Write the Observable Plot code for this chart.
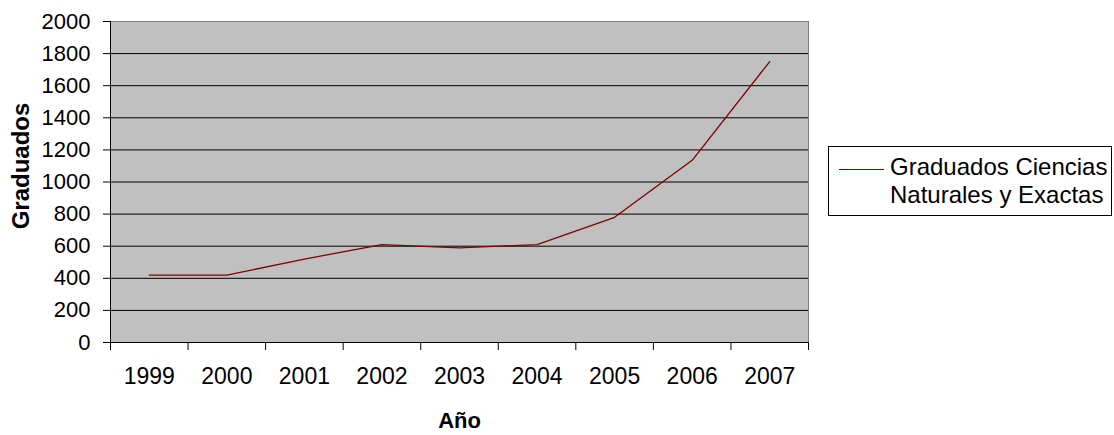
<!DOCTYPE html>
<html>
<head>
<meta charset="utf-8">
<script src="https://cdn.jsdelivr.net/npm/d3@7"></script>
<script src="https://cdn.jsdelivr.net/npm/@observablehq/plot@0.6"></script>
<style>
  html, body { margin: 0; padding: 0; background: white; }
  #wrap { position: relative; width: 1114px; height: 435px; font-family: "Liberation Sans", Arial, sans-serif; }
  #legend { position: absolute; left: 828px; top: 146px; width: 284px; height: 70px; border: 1px solid #000; box-sizing: border-box; background: white; }
  #legend .sw { position: absolute; left: 10px; top: 22px; width: 45px; height: 0; border-top: 1.3px solid #800000; }
  #legend .lbl { position: absolute; left: 61px; top: 6px; font-size: 24px; line-height: 28px; color: #000; white-space: nowrap; }
</style>
</head>
<body>
<div id="wrap"></div>
<script>
const years = [1999, 2000, 2001, 2002, 2003, 2004, 2005, 2006, 2007];
const graduados = [420, 420, 520, 610, 590, 610, 780, 1135, 1750];
const yTicks = [0, 200, 400, 600, 800, 1000, 1200, 1400, 1600, 1800, 2000];
const seriesLines = ["Graduados Ciencias", "Naturales y Exactas"];
const xLabel = "Año";
const yLabel = "Graduados";

const data = years.map((y, i) => ({year: y, value: graduados[i]}));
const boundaries = years.map(y => y - 0.5).concat([years[years.length - 1] + 0.5]);

const chart = Plot.plot({
  width: 1114,
  height: 435,
  marginLeft: 110,
  marginRight: 306,
  marginTop: 21,
  marginBottom: 93,
  x: {type: "linear", domain: [boundaries[0], boundaries[boundaries.length - 1]]},
  y: {domain: [0, 2000]},
  style: {fontFamily: "'Liberation Sans', Arial, sans-serif", background: "white", color: "black"},
  marks: [
    Plot.frame({fill: "#c0c0c0", stroke: "#808080"}),
    Plot.gridY(yTicks.slice(1, -1), {stroke: "#000", strokeOpacity: 1, strokeWidth: 1}),
    Plot.ruleX([boundaries[0]], {stroke: "#000"}),
    Plot.ruleY([0], {stroke: "#000"}),
    Plot.axisY({ticks: yTicks, tickSize: 7, tickPadding: 13, fontSize: 22, label: null, tickFormat: d => String(d), stroke: "#000"}),
    Plot.axisX({ticks: boundaries, tickSize: 8, tickFormat: () => "", label: null, stroke: "#000"}),
    Plot.axisX({ticks: years, tickSize: 0, tickPadding: 25, fontSize: 23, label: null, tickFormat: d => String(d)}),
    Plot.line(data, {x: "year", y: "value", stroke: "#800000", strokeWidth: 1.3}),
    Plot.text([xLabel], {frameAnchor: "bottom", dy: 78, lineAnchor: "middle", textAnchor: "middle", fontWeight: "bold", fontSize: 22, fill: "#000"}),
    Plot.text([yLabel], {frameAnchor: "left", dx: -89, dy: -16, rotate: -90, textAnchor: "middle", lineAnchor: "middle", fontWeight: "bold", fontSize: 24, fill: "#000"})
  ]
});

const wrap = document.getElementById("wrap");
wrap.appendChild(chart);
const legend = document.createElement("div");
legend.id = "legend";
legend.innerHTML = '<div class="sw"></div><div class="lbl">' + seriesLines.join("<br>") + '</div>';
wrap.appendChild(legend);
</script>
</body>
</html>
